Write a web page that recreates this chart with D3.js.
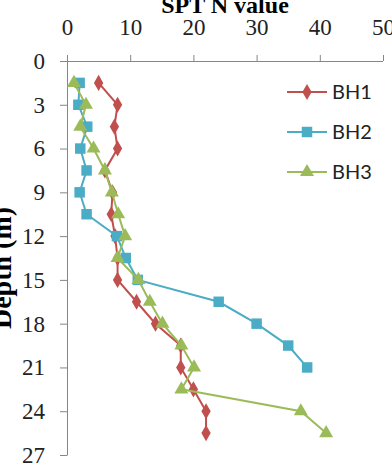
<!DOCTYPE html>
<html>
<head>
<meta charset="utf-8">
<script src="https://cdn.jsdelivr.net/npm/d3@7/dist/d3.min.js"></script>
<style>
  html, body { margin: 0; padding: 0; background: #fff; }
  #chart { width: 392px; height: 464px; overflow: hidden; }
</style>
</head>
<body>
<div id="chart"></div>
<script>
// depth values (m) and SPT N values per borehole
const depthBH1 = [1.5, 3, 4.5, 6, 7.5, 9, 10.5, 12, 13.5, 15, 16.5, 18, 19.5, 21, 22.5, 24, 25.5];
const nBH1 = [5, 8, 7.5, 8, 6, 7.2, 7, 7.6, 8, 8, 11, 14, 18, 18, 20, 22, 22];

const depthBH2 = [1.5, 3, 4.5, 6, 7.5, 9, 10.5, 12, 13.5, 15, 16.5, 18, 19.5, 21];
const nBH2 = [2, 1.8, 3.2, 2.1, 3.1, 2, 3.1, 7.9, 9.3, 11.2, 24, 30, 35, 38];

const depthBH3 = [1.5, 3, 4.5, 6, 7.5, 9, 10.5, 12, 13.5, 15, 16.5, 18, 19.5, 21, 22.5, 24, 25.5];
const nBH3 = [1.1, 3, 2.1, 4.2, 6, 7.1, 8.1, 9.2, 8, 11.3, 13.1, 15.1, 18.1, 20.1, 18.1, 37, 41];

const seriesNames = ['BH1', 'BH2', 'BH3'];
const xTicks = [0, 10, 20, 30, 40, 50];
const yTicks = [0, 3, 6, 9, 12, 15, 18, 21, 24, 27];

const series = [
  { name: seriesNames[0], color: '#C0504D', symbol: d3.symbolDiamond, size: 75,
    points: depthBH1.map((d, i) => ({ depth: d, n: nBH1[i] })) },
  { name: seriesNames[1], color: '#4BACC6', symbol: d3.symbolSquare, size: 110,
    points: depthBH2.map((d, i) => ({ depth: d, n: nBH2[i] })) },
  { name: seriesNames[2], color: '#9BBB59', symbol: d3.symbolTriangle, size: 85,
    points: depthBH3.map((d, i) => ({ depth: d, n: nBH3[i] })) }
];

const svg = d3.select('#chart')
  .append('svg')
  .attr('width', 392)
  .attr('height', 464);

const x = d3.scaleLinear().domain([0, 50]).range([67, 383]);
const y = d3.scaleLinear().domain([0, 27]).range([61, 455]);

const axisColor = '#868686';
const serif = '"Liberation Serif", "Times New Roman", serif';

// X axis on top
const xAxis = svg.append('g')
  .attr('transform', `translate(0,${y(0)})`)
  .call(d3.axisTop(x).tickValues(xTicks).tickSize(6).tickSizeOuter(0).tickPadding(20));
xAxis.select('.domain').attr('stroke', axisColor).attr('d', `M${x(0) - 7},0.5H${x(50)}`);
xAxis.selectAll('.tick line').attr('stroke', axisColor);
xAxis.selectAll('text')
  .style('font-family', serif)
  .style('font-size', '23px')
  .attr('fill', '#222');

// Y axis on left
const yAxis = svg.append('g')
  .attr('transform', `translate(${x(0)},0)`)
  .call(d3.axisLeft(y).tickValues(yTicks).tickSize(7).tickSizeOuter(0).tickPadding(15));
yAxis.select('.domain').attr('stroke', axisColor);
yAxis.selectAll('.tick line').attr('stroke', axisColor);
yAxis.selectAll('text')
  .style('font-family', serif)
  .style('font-size', '23px')
  .attr('fill', '#222');

// Titles
svg.append('text')
  .attr('x', (x(0) + x(50)) / 2)
  .attr('y', 13)
  .attr('text-anchor', 'middle')
  .style('font-family', serif)
  .style('font-size', '24px')
  .style('font-weight', 'bold')
  .text('SPT N value');

svg.append('text')
  .attr('transform', 'rotate(-90)')
  .attr('x', -268)
  .attr('y', 11)
  .attr('text-anchor', 'middle')
  .style('font-family', serif)
  .style('font-size', '28px')
  .style('font-weight', 'bold')
  .text('Depth (m)');

// Series
const line = d3.line()
  .x(d => x(d.n))
  .y(d => y(d.depth));

series.forEach(s => {
  svg.append('path')
    .datum(s.points)
    .attr('fill', 'none')
    .attr('stroke', s.color)
    .attr('stroke-width', 2)
    .attr('d', line);

  svg.selectAll(null)
    .data(s.points)
    .enter()
    .append('path')
    .attr('transform', d => `translate(${x(d.n)},${y(d.depth)})`)
    .attr('d', d3.symbol().type(s.symbol).size(s.size))
    .attr('fill', s.color);
});

// Legend
const legend = svg.append('g');
series.forEach((s, i) => {
  const ly = 92 + i * 40;
  legend.append('line')
    .attr('x1', 287).attr('x2', 327)
    .attr('y1', ly).attr('y2', ly)
    .attr('stroke', s.color)
    .attr('stroke-width', 2);
  legend.append('path')
    .attr('transform', `translate(307,${ly})`)
    .attr('d', d3.symbol().type(s.symbol).size(s.size))
    .attr('fill', s.color);
  legend.append('text')
    .attr('x', 332)
    .attr('y', ly)
    .attr('dy', '0.36em')
    .style('font-family', 'Lato, Carlito, Calibri, sans-serif')
    .style('font-size', '20px')
    .attr('fill', '#222')
    .text(s.name);
});
</script>
</body>
</html>
